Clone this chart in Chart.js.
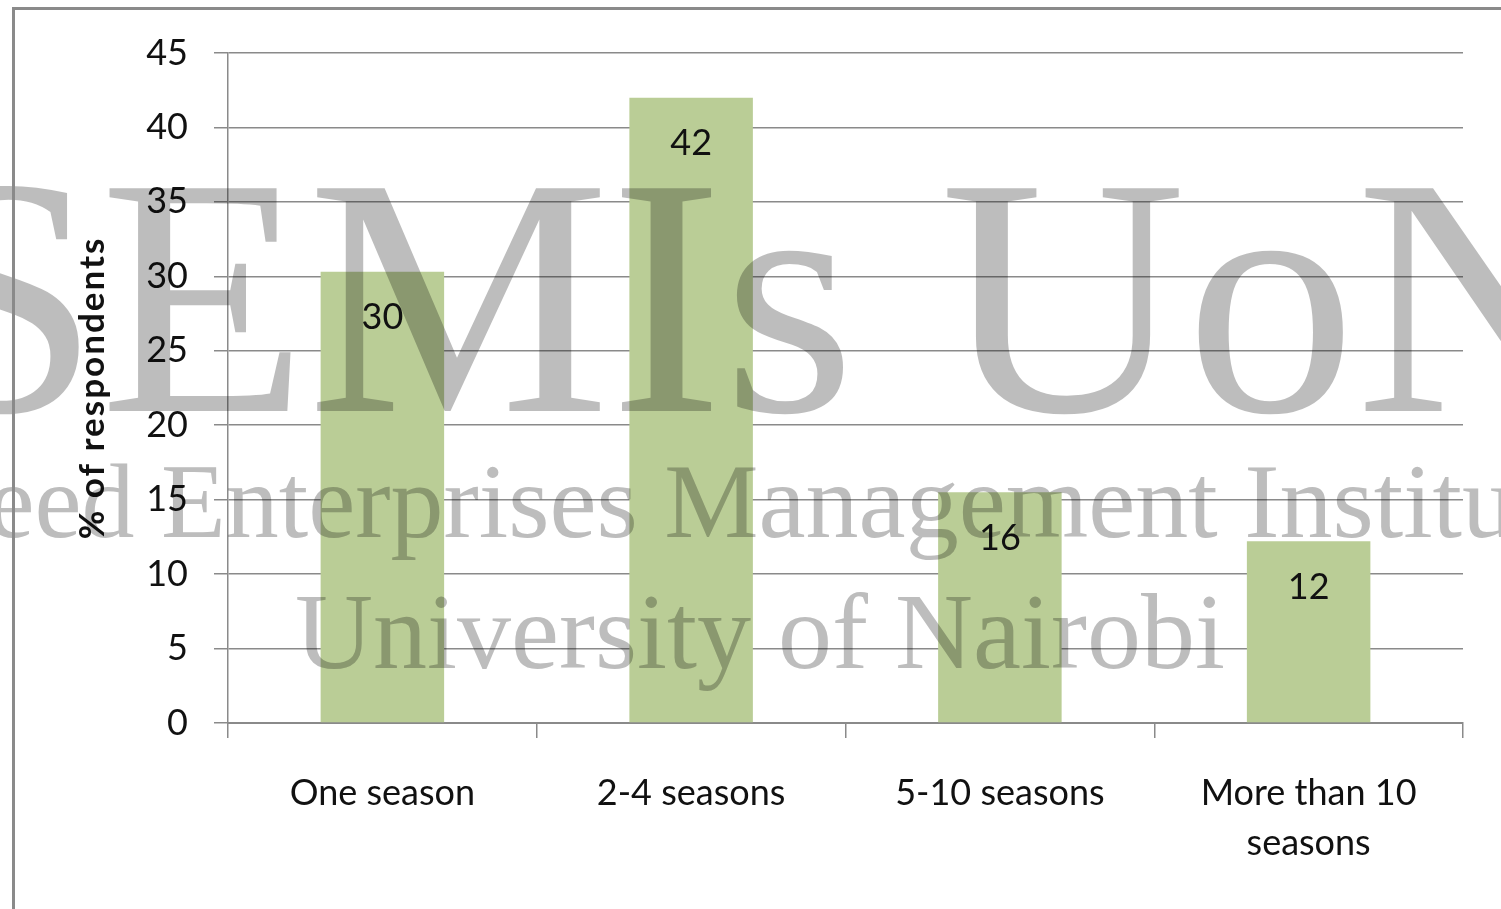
<!DOCTYPE html>
<html>
<head>
<meta charset="utf-8">
<script src="https://cdn.jsdelivr.net/npm/chart.js@4.4.0/dist/chart.umd.min.js"></script>
<style>
  html, body { margin: 0; padding: 0; background: #ffffff; }
  #wrap { position: relative; width: 1501px; height: 909px; overflow: hidden; }
</style>
</head>
<body>
<div id="wrap"><canvas id="c" width="1501" height="909"></canvas></div>
<script>
// ---- data ----
const categories = ["One season", "2-4 seasons", "5-10 seasons", ["More than 10", "seasons"]];
const respondentsPct = [30.3, 42, 15.5, 12.2];
const valueLabels = ["30", "42", "16", "12"];
const yTicks = [0, 5, 10, 15, 20, 25, 30, 35, 40, 45];
const yAxisTitle = "% of respondents";
const watermarkLines = ["SEMIs UoN", "Seed Enterprises Management Institute", "University of Nairobi"];

const FONT = "Lato";

const valueLabelPlugin = {
  id: 'valueLabels',
  afterDatasetsDraw(chart) {
    const ctx = chart.ctx;
    const meta = chart.getDatasetMeta(0);
    ctx.save();
    ctx.font = "36px " + FONT;
    ctx.fillStyle = "#111111";
    ctx.textAlign = "center";
    ctx.textBaseline = "middle";
    meta.data.forEach((bar, i) => {
      ctx.fillText(valueLabels[i], bar.x, bar.y + 46);
    });
    ctx.restore();
  }
};

const axisTitlePlugin = {
  id: 'axisTitle',
  afterDraw(chart) {
    const ctx = chart.ctx;
    const area = chart.chartArea;
    ctx.save();
    ctx.translate(93, (area.top + area.bottom) / 2);
    ctx.rotate(-Math.PI / 2);
    ctx.font = "bold 35px " + FONT;
    try { ctx.letterSpacing = "2px"; } catch (e) {}
    ctx.fillStyle = "#111111";
    ctx.textAlign = "center";
    ctx.textBaseline = "middle";
    ctx.fillText(yAxisTitle, 0, 0);
    ctx.restore();
  }
};

const watermarkPlugin = {
  id: 'watermark',
  afterDraw(chart) {
    const ctx = chart.ctx;
    ctx.save();
    ctx.globalCompositeOperation = 'multiply';
    ctx.fillStyle = "#bdbdbd";
    ctx.textAlign = "center";
    ctx.textBaseline = "alphabetic";
    ctx.font = "340px 'Liberation Serif'";
    ctx.fillText(watermarkLines[0], 756, 411);
    ctx.font = "106px 'Liberation Serif'";
    ctx.fillText(watermarkLines[1], 760, 537);
    ctx.font = "108px 'Liberation Serif'";
    ctx.fillText(watermarkLines[2], 760, 668);
    ctx.restore();
    // outer frame
    ctx.save();
    ctx.strokeStyle = "#8a8a8a";
    ctx.lineWidth = 3;
    ctx.strokeRect(13.5, 8.5, 1700, 1100);
    ctx.restore();
  }
};

const bg = {
  id: 'bg',
  beforeDraw(chart) {
    const ctx = chart.ctx;
    ctx.save();
    ctx.fillStyle = "#ffffff";
    ctx.fillRect(0, 0, chart.width, chart.height);
    ctx.restore();
  }
};

new Chart(document.getElementById('c'), {
  type: 'bar',
  data: {
    labels: categories,
    datasets: [{
      data: respondentsPct,
      backgroundColor: "#bacd96",
      borderWidth: 0,
      categoryPercentage: 1.0,
      barPercentage: 0.4
    }]
  },
  options: {
    responsive: false,
    animation: false,
    devicePixelRatio: 1,
    layout: { padding: { left: 0, top: 53, right: 38, bottom: 0 } },
    plugins: { legend: { display: false }, tooltip: { enabled: false } },
    scales: {
      x: {
        offset: true,
        grid: { display: true, drawOnChartArea: false, offset: true, tickLength: 15, color: "#8a8a8a", lineWidth: 1.5 },
        border: { display: true, color: "#8a8a8a", width: 2 },
        ticks: { color: "#111111", font: { family: FONT, size: 36, lineHeight: 1.4 }, padding: 30, maxRotation: 0, autoSkip: false },
        afterFit(scale) { scale.height = 186; }
      },
      y: {
        min: 0, max: 45,
        afterBuildTicks(scale) { scale.ticks = yTicks.map(v => ({ value: v })); },
        grid: { color: "#8a8a8a", lineWidth: 1.5, tickLength: 14 },
        border: { display: true, color: "#8a8a8a", width: 1.5 },
        ticks: { color: "#111111", font: { family: FONT, size: 36 }, padding: 26 },
        title: { display: false },
        afterFit(scale) { scale.width = 228; }
      }
    }
  },
  plugins: [bg, valueLabelPlugin, axisTitlePlugin, watermarkPlugin]
});
</script>
</body>
</html>
